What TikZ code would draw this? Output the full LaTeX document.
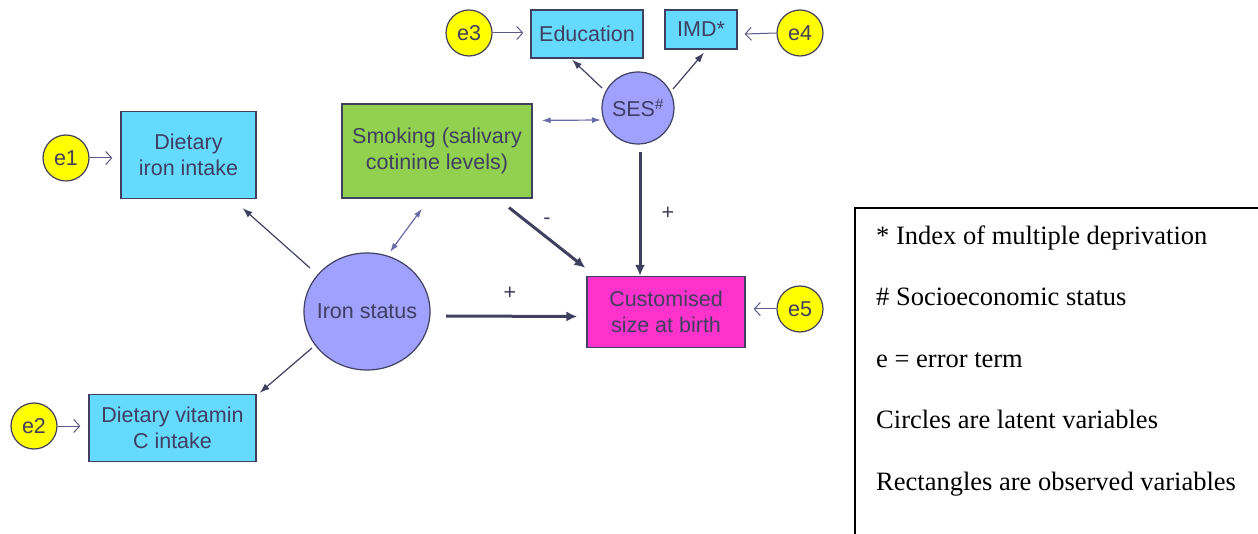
\documentclass[tikz,border=0pt]{standalone}
\usepackage{fontspec}
\setmainfont{Liberation Serif}
\newfontfamily\diagfont{Liberation Sans}
\usetikzlibrary{arrows.meta,shapes.geometric,calc}
\definecolor{txtc}{HTML}{3F3F5F}
\definecolor{bordc}{HTML}{404060}
\definecolor{thinc}{HTML}{5A5A88}
\definecolor{dblc}{HTML}{6A6AA8}
\definecolor{cyanb}{HTML}{66D9FF}
\definecolor{greenb}{HTML}{92D050}
\definecolor{magb}{HTML}{FF33CC}
\definecolor{lavb}{HTML}{A0A0FF}
\definecolor{yelb}{HTML}{FFFF00}
\tikzset{
  lab/.style={font=\diagfont\fontsize{21.5}{26.5}\selectfont, text=txtc},
  obsbox/.style={lab, draw=bordc, line width=1.2pt, rectangle, inner sep=0pt, align=center},
  errc/.style={lab, draw=bordc, line width=1.2pt, circle, fill=yelb, minimum size=46pt, inner sep=0pt},
  latc/.style={lab, draw=bordc, line width=1.2pt, fill=lavb, inner sep=0pt},
  errarrow/.style={draw=thinc, line width=1pt, -{Straight Barb[length=6pt,width=13pt]}},
  thinarrow/.style={draw=bordc, line width=1.2pt, -{Latex[length=10pt,width=7pt]}},
  dblarrow/.style={draw=dblc, line width=1.2pt, {Latex[length=9pt,width=6pt]}-{Latex[length=9pt,width=6pt]}},
  thickarrow/.style={draw=bordc, line width=3pt, -{Latex[length=11pt,width=10pt]}},
  legtxt/.style={font=\fontsize{26.5}{30}\selectfont, text=black, anchor=base west, inner sep=0pt}
}
\begin{document}
\begin{tikzpicture}[x=1pt,y=-1pt]
\useasboundingbox (0,0) rectangle (1258,534);
% observed variables
\node[obsbox, fill=cyanb, minimum width=112pt, minimum height=48pt] (edu) at (587,34) {Education};
\node[obsbox, fill=cyanb, minimum width=72pt, minimum height=39pt] (imd) at (701,29.5) {IMD*};
\node[obsbox, fill=greenb, minimum width=190pt, minimum height=94pt] (smoke) at (437,151) {Smoking (salivary\\cotinine levels)};
\node[obsbox, fill=cyanb, minimum width=135pt, minimum height=87pt] (diron) at (188.5,155) {Dietary\\iron intake};
\node[obsbox, fill=cyanb, minimum width=167pt, minimum height=67pt] (dvitc) at (172.5,428) {Dietary vitamin\\C intake};
\node[obsbox, fill=magb, minimum width=158pt, minimum height=71pt] (cust) at (666,312) {Customised\\size at birth};
% latent variables
\node[latc, circle, minimum size=72pt] (ses) at (638,108) {SES\textsuperscript{\#}};
\node[latc, ellipse, minimum width=126pt, minimum height=117pt] (iron) at (367,311.5) {};
\node[lab] (irontxt) at (iron) {Iron status};
% error terms
\node[errc] (e1) at (66,158) {e1};
\node[errc] (e2) at (34,426) {e2};
\node[errc] (e3) at (469,33) {e3};
\node[errc] (e4) at (800,33) {e4};
\node[errc] (e5) at (800,309) {e5};
% error arrows
\draw[errarrow] (e1.east) -- ($(diron.west |- e1)+(-8,0)$);
\draw[errarrow] (e2.east) -- ($(dvitc.west |- e2)+(-8,0)$);
\draw[errarrow] (e3.east) -- ($(edu.west |- e3)+(-7,0)$);
\draw[errarrow] (e4.west) -- ($(imd.east |- e4)+(7,1)$);
\draw[errarrow] (e5.west) -- ($(cust.east |- e5)+(8,0)$);
% loadings
\draw[thinarrow] ($(ses)+(-36,-20)$) -- ($(edu.south)+(-15,1)$);
\draw[thinarrow] ($(ses)+(35,-19)$) -- ($(imd.south)+(3,3)$);
\draw[thinarrow] ($(iron)+(-57,-43.5)$) -- ($(diron.south east)+(-14,9)$);
\draw[thinarrow] ($(iron)+(-55,36.5)$) -- ($(dvitc.north east)+(3,-1)$);
% correlations
\draw[dblarrow] ($(smoke.north east)+(9,17)$) -- ($(ses)+(-37,12)$);
\draw[dblarrow] ($(iron)+(23,-59.5)$) -- ($(smoke.south)+(-15,10)$);
% structural paths
\draw[thickarrow] ($(smoke.south)+(72,9)$) -- ($(cust.north west)+(-1,-8)$);
\draw[thickarrow] ($(ses)+(2,44)$) -- ($(cust.north)+(-26,0)$);
\draw[thickarrow] ($(iron)+(79,4.5)$) -- ($(cust.west)+(-9,4.5)$);
\node[lab] (lminus) at (547,221) {-};
\node[lab] (lplus1) at (668,213) {+};
\node[lab] (lplus2) at (510,293) {+};
% legend
\draw[black, line width=1.5pt] (855,540) -- (855,208) -- (1264,208);
\node[legtxt] (l1) at (876,245) {* Index of multiple deprivation};
\node[legtxt] (l2) at (876,306) {\# Socioeconomic status};
\node[legtxt] (l3) at (876,367) {e = error term};
\node[legtxt] (l4) at (876,428) {Circles are latent variables};
\node[legtxt] (l5) at (876,490) {Rectangles are observed variables};
\end{tikzpicture}
\end{document}
